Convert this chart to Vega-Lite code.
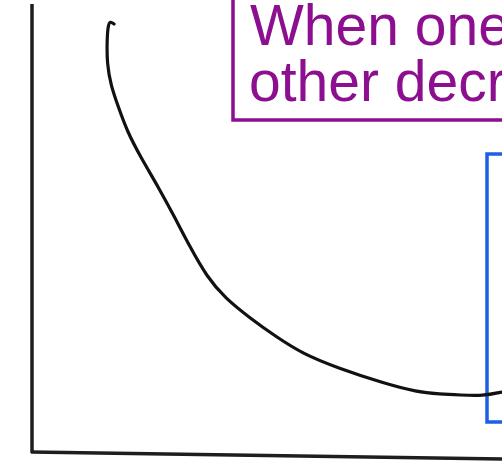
{
  "$schema": "https://vega.github.io/schema/vega-lite/v6.json",
  "width": 502,
  "height": 464,
  "padding": 0,
  "autosize": {"type": "fit", "contains": "padding"},
  "background": "white",
  "config": {"view": {"stroke": null}},
  "datasets": {
    "curve": [
      {"i": 0, "x": 114, "y": 24},
      {"i": 1, "x": 110, "y": 21},
      {"i": 2, "x": 108, "y": 26},
      {"i": 3, "x": 107, "y": 40},
      {"i": 4, "x": 107, "y": 64},
      {"i": 5, "x": 111, "y": 86},
      {"i": 6, "x": 118, "y": 106},
      {"i": 7, "x": 127, "y": 131},
      {"i": 8, "x": 140, "y": 156},
      {"i": 9, "x": 160, "y": 190},
      {"i": 10, "x": 174, "y": 216},
      {"i": 11, "x": 190, "y": 247},
      {"i": 12, "x": 207, "y": 277},
      {"i": 13, "x": 225, "y": 298},
      {"i": 14, "x": 250, "y": 318},
      {"i": 15, "x": 275, "y": 336},
      {"i": 16, "x": 303, "y": 354},
      {"i": 17, "x": 338, "y": 368},
      {"i": 18, "x": 383, "y": 383},
      {"i": 19, "x": 417, "y": 392},
      {"i": 20, "x": 440, "y": 394},
      {"i": 21, "x": 460, "y": 395},
      {"i": 22, "x": 483, "y": 396},
      {"i": 23, "x": 502, "y": 392}
    ],
    "axes": [
      {"name": "vertical", "x": 32, "x2": 32, "y": 4, "y2": 453},
      {"name": "horizontal", "x": 31, "x2": 502, "y": 452, "y2": 459}
    ],
    "boxes": [
      {"name": "purple", "x": 233, "x2": 560, "y": -30, "y2": 120, "color": "#8b0f8f"},
      {"name": "blue", "x": 487, "x2": 560, "y": 154, "y2": 422, "color": "#1a5fe6"}
    ],
    "labels": [
      {"text": "When one", "x": 250, "y": 45},
      {"text": "other decr", "x": 249, "y": 101}
    ]
  },
  "layer": [
    {
      "data": {"name": "boxes"},
      "mark": {"type": "rect", "filled": false, "strokeWidth": 3.5, "clip": true},
      "encoding": {
        "x": {"field": "x", "type": "quantitative", "scale": {"domain": [0, 502]}, "axis": null},
        "x2": {"field": "x2"},
        "y": {"field": "y", "type": "quantitative", "scale": {"domain": [0, 464], "reverse": true}, "axis": null},
        "y2": {"field": "y2"},
        "stroke": {"field": "color", "type": "nominal", "scale": null, "legend": null}
      }
    },
    {
      "data": {"name": "labels"},
      "mark": {"type": "text", "align": "left", "baseline": "alphabetic", "font": "Liberation Sans", "fontSize": 57, "color": "#8b0f8f", "clip": true},
      "encoding": {
        "x": {"field": "x", "type": "quantitative", "scale": {"domain": [0, 502]}, "axis": null},
        "y": {"field": "y", "type": "quantitative", "scale": {"domain": [0, 464], "reverse": true}, "axis": null},
        "text": {"field": "text"}
      }
    },
    {
      "data": {"name": "axes"},
      "mark": {"type": "rule", "strokeWidth": 3.5, "color": "#1e1e1e", "clip": true},
      "encoding": {
        "x": {"field": "x", "type": "quantitative", "scale": {"domain": [0, 502]}, "axis": null},
        "x2": {"field": "x2"},
        "y": {"field": "y", "type": "quantitative", "scale": {"domain": [0, 464], "reverse": true}, "axis": null},
        "y2": {"field": "y2"}
      }
    },
    {
      "data": {"name": "curve"},
      "mark": {"type": "line", "interpolate": "basis", "strokeWidth": 3.2, "color": "#111111", "strokeCap": "round", "clip": true},
      "encoding": {
        "x": {"field": "x", "type": "quantitative", "scale": {"domain": [0, 502]}, "axis": null},
        "y": {"field": "y", "type": "quantitative", "scale": {"domain": [0, 464], "reverse": true}, "axis": null},
        "order": {"field": "i", "type": "quantitative"}
      }
    }
  ]
}
